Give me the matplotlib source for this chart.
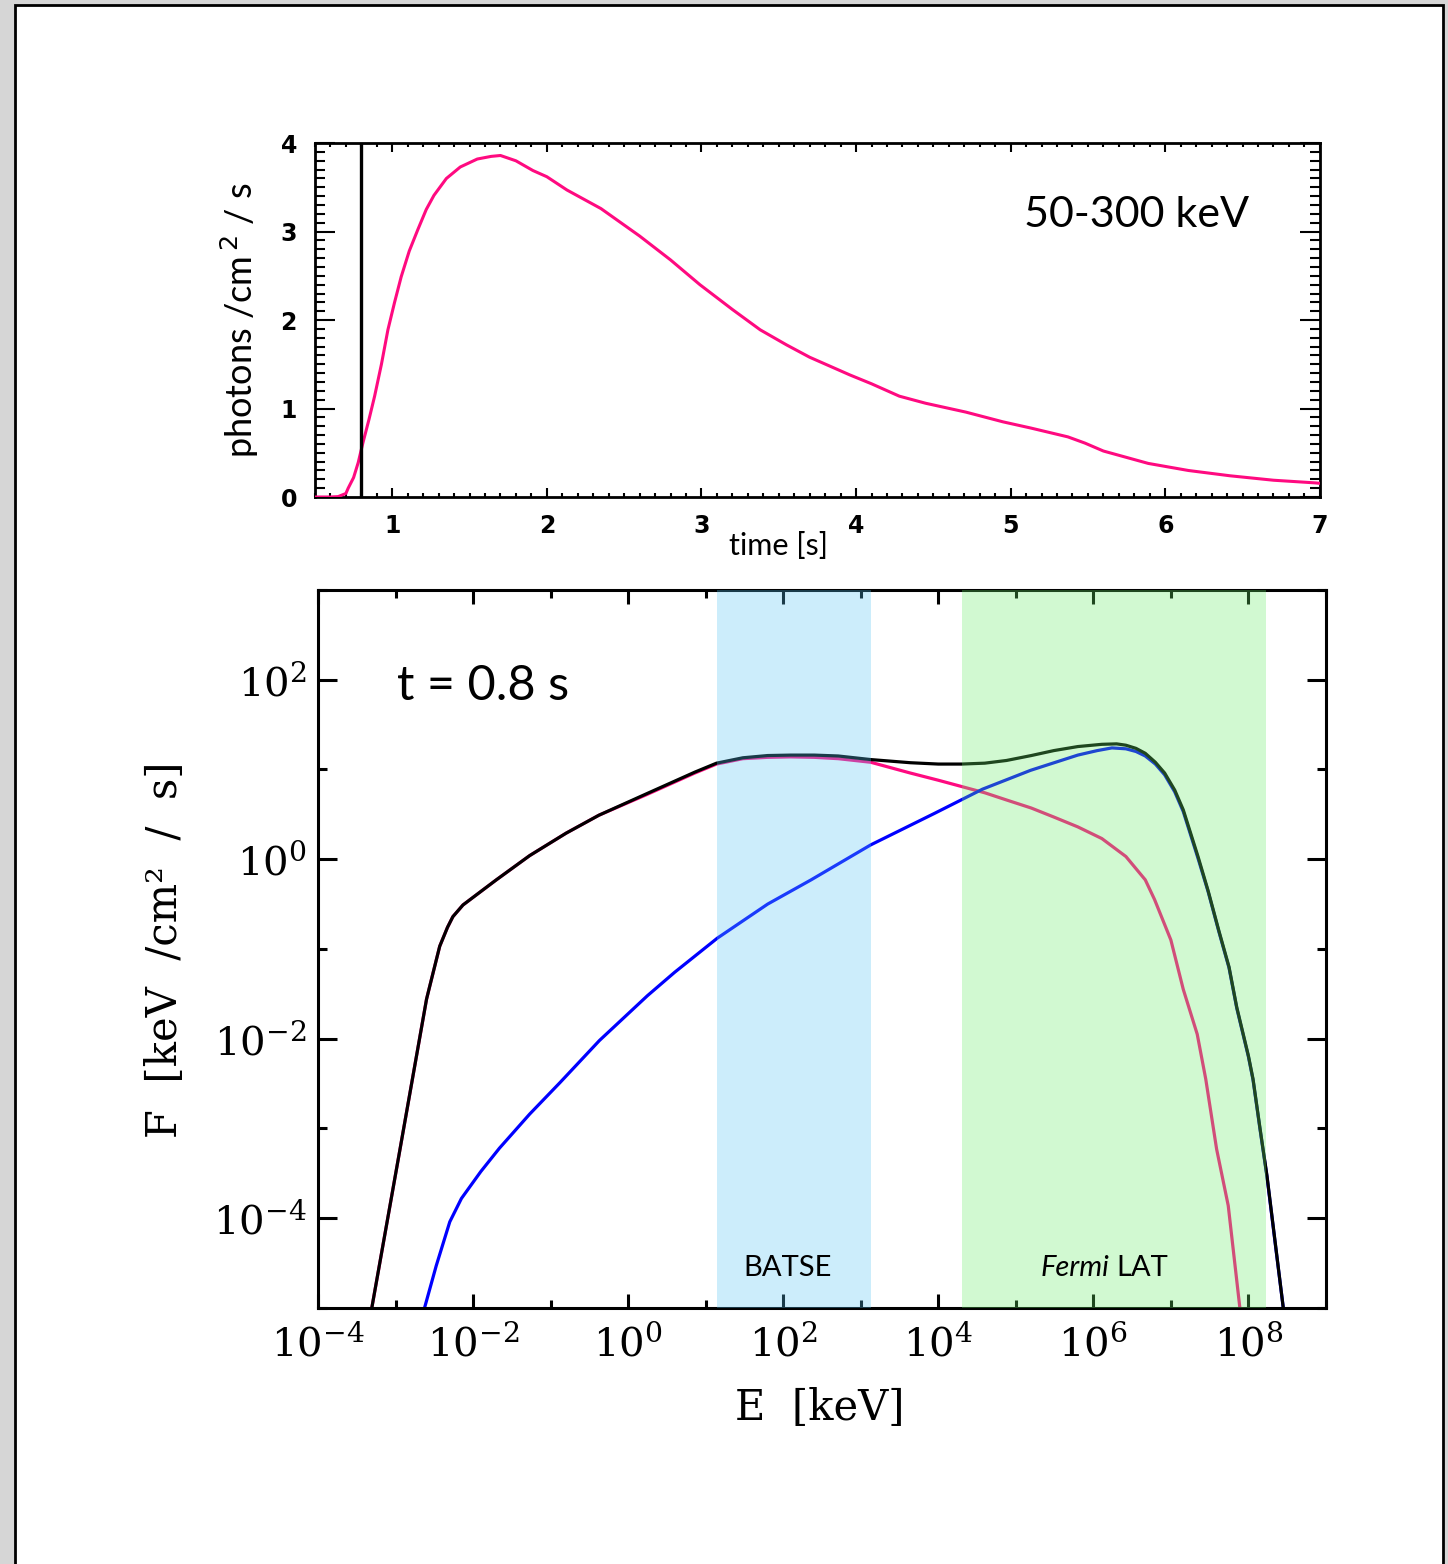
import numpy as np
import matplotlib
matplotlib.use('Agg')
import matplotlib.pyplot as plt
from matplotlib.patches import Rectangle
from matplotlib.ticker import MultipleLocator, LogLocator, FuncFormatter, NullFormatter

plt.rcParams['mathtext.fontset'] = 'dejavuserif'

# light curve, 50-300 keV
t_lc = [0.50, 0.60, 0.65, 0.70, 0.715, 0.75, 0.78, 0.81, 0.85, 0.886, 0.93, 0.972,
        1.015, 1.058, 1.11, 1.165, 1.22, 1.27, 1.35, 1.44, 1.55, 1.64, 1.70, 1.80,
        1.91, 2.00, 2.13, 2.35, 2.60, 2.80, 2.99, 3.20, 3.38, 3.55, 3.70, 3.96, 4.10,
        4.28, 4.45, 4.71, 4.95, 5.13, 5.25, 5.37, 5.48, 5.60, 5.89, 6.15, 6.42, 6.70,
        6.97, 7.00]
rate_lc = [0.0, 0.0, 0.005, 0.04, 0.10, 0.22, 0.39, 0.61, 0.88, 1.14, 1.50, 1.89,
           2.20, 2.49, 2.78, 3.02, 3.25, 3.41, 3.60, 3.73, 3.82, 3.85, 3.86, 3.80,
           3.69, 3.62, 3.47, 3.26, 2.95, 2.68, 2.40, 2.12, 1.89, 1.72, 1.58, 1.38, 1.28,
           1.14, 1.06, 0.96, 0.85, 0.78, 0.73, 0.68, 0.61, 0.52, 0.38, 0.30, 0.24, 0.19,
           0.16, 0.155]
t_mark = 0.8

# spectrum at t = 0.8 s  (log10 E [keV], log10 F)
logE_tot = [-3.306, -2.95, -2.60, -2.56, -2.43, -2.33, -2.26, -2.13, -1.90, -1.70, -1.27,
            -0.80, -0.377, 0.24, 0.86, 1.14, 1.48, 1.80, 2.10, 2.40, 2.71, 3.13, 3.64, 4.00,
            4.30, 4.60, 4.88, 5.20, 5.49, 5.80, 6.11, 6.30, 6.42, 6.55, 6.67, 6.80, 6.92,
            7.05, 7.16, 7.35, 7.48, 7.62, 7.75, 7.85, 8.00, 8.06, 8.15, 8.24, 8.35, 8.45]
logF_tot = [-5.0, -3.27, -1.56, -1.42, -0.97, -0.76, -0.64, -0.51, -0.36, -0.23, 0.04,
            0.29, 0.49, 0.73, 0.97, 1.07, 1.13, 1.155, 1.16, 1.16, 1.15, 1.11, 1.075, 1.06,
            1.06, 1.07, 1.10, 1.155, 1.21, 1.255, 1.28, 1.285, 1.27, 1.235, 1.18, 1.08, 0.96,
            0.77, 0.55, 0.03, -0.35, -0.80, -1.20, -1.65, -2.19, -2.45, -3.00, -3.53, -4.30, -5.0]

logE_pink = [-3.306, -2.95, -2.60, -2.56, -2.43, -2.33, -2.26, -2.13, -1.90, -1.70, -1.27,
             -0.80, -0.377, 0.24, 0.86, 1.14, 1.48, 1.80, 2.10, 2.40, 2.71, 3.13, 3.64, 4.00,
             4.30, 4.60, 4.88, 5.20, 5.49, 5.80, 6.11, 6.42, 6.67, 6.79, 7.00, 7.16, 7.34,
             7.45, 7.59, 7.74, 7.89]
logF_pink = [-5.0, -3.27, -1.56, -1.42, -0.97, -0.76, -0.64, -0.51, -0.36, -0.23, 0.04,
             0.29, 0.49, 0.72, 0.96, 1.06, 1.12, 1.135, 1.14, 1.135, 1.12, 1.08, 0.96, 0.88,
             0.81, 0.74, 0.66, 0.57, 0.47, 0.36, 0.23, 0.03, -0.23, -0.45, -0.90, -1.45, -1.95,
             -2.45, -3.23, -3.86, -5.0]

logE_blue = [-2.626, -2.475, -2.30, -2.15, -1.90, -1.66, -1.27, -0.88, -0.37, 0.25,
             0.60, 1.15, 1.80, 2.36, 3.13, 3.95, 4.57, 5.19, 5.80, 6.05, 6.24, 6.42, 6.55,
             6.67, 6.80, 6.92, 7.05, 7.16, 7.35, 7.48, 7.62, 7.75, 7.85, 8.00, 8.06, 8.15,
             8.24, 8.35, 8.45]
logF_blue = [-5.0, -4.53, -4.04, -3.78, -3.48, -3.22, -2.84, -2.49, -2.02, -1.52,
             -1.26, -0.88, -0.50, -0.23, 0.16, 0.51, 0.78, 0.99, 1.16, 1.21, 1.24, 1.23, 1.20,
             1.15, 1.06, 0.94, 0.75, 0.53, 0.01, -0.36, -0.81, -1.21, -1.66, -2.20, -2.46, -3.01,
             -3.54, -4.31, -5.0]

batse_band = (14.0, 1.36e3)
lat_band = (2.0e4, 1.7e8)

fig = plt.figure(figsize=(14.48, 15.64), dpi=100, facecolor='#d6d6d6')
fig.add_artist(Rectangle((15/1448, -0.01), 1428/1448, 1.0068, transform=fig.transFigure,
                         facecolor='white', edgecolor='black', lw=2, zorder=0))

# ---- light curve panel
ax1 = fig.add_axes([0.2175, 0.6822, 0.694, 0.2263])
ax1.plot(t_lc, rate_lc, color='#ff0a80', lw=2.2, zorder=3)
ax1.axvline(t_mark, color='black', lw=2.4, zorder=4)
ax1.set_xlim(0.5, 7)
ax1.set_ylim(0, 4)
ax1.xaxis.set_major_locator(MultipleLocator(1))
ax1.xaxis.set_minor_locator(MultipleLocator(0.1))
ax1.yaxis.set_major_locator(MultipleLocator(1))
ax1.yaxis.set_minor_locator(MultipleLocator(0.1))
ax1.tick_params(which='both', direction='in', top=True, right=True, width=1.5, labelsize=17)
ax1.tick_params(axis='x', which='major', length=6.5, pad=12)
ax1.tick_params(axis='x', which='minor', length=3.2)
ax1.tick_params(axis='y', which='major', length=14.4, pad=13)
ax1.tick_params(axis='y', which='minor', length=7.2)
plt.setp(ax1.get_xticklabels() + ax1.get_yticklabels(), fontweight='bold', family='DejaVu Sans')
for s in ax1.spines.values():
    s.set_linewidth(2)
ax1.set_ylabel('photons /cm$^{\\,2}$ / s', family='Lato', fontsize=26, math_fontfamily='dejavusans')
ax1.yaxis.set_label_coords(-0.0746, 0.5)
ax1.yaxis.label.set_va('center')
ax1.set_xlabel('time [s]', family='Lato', fontsize=22)
ax1.xaxis.set_label_coords(0.461, -0.138)
ax1.xaxis.label.set_va('center')
ax1.text(0.93, 0.797, '50-300 keV', transform=ax1.transAxes, ha='right', va='center',
         family='Lato', fontsize=31)

# ---- spectrum panel
ax2 = fig.add_axes([0.2196, 0.1637, 0.6961, 0.4591])
ax2.plot(10**np.array(logE_pink), 10**np.array(logF_pink), color='#ff0a80', lw=2.3, zorder=2)
ax2.plot(10**np.array(logE_blue), 10**np.array(logF_blue), color='#0000ff', lw=2.3, zorder=2)
ax2.plot(10**np.array(logE_tot), 10**np.array(logF_tot), color='black', lw=2.3, zorder=2)
ax2.axvspan(*batse_band, color=(88/255, 198/255, 245/255), alpha=0.3, lw=0, zorder=3)
ax2.axvspan(*lat_band, color=(105/255, 238/255, 105/255), alpha=0.3, lw=0, zorder=3)
ax2.set_xscale('log')
ax2.set_yscale('log')
ax2.set_xlim(1e-4, 1e9)
ax2.set_ylim(1e-5, 1e3)
pow_fmt = FuncFormatter(lambda v, p: r'$10^{%d}$' % int(round(np.log10(v))))
for axis in (ax2.xaxis, ax2.yaxis):
    axis.set_major_locator(LogLocator(base=100, numticks=20))
    axis.set_minor_locator(LogLocator(base=10, subs=(1.0,), numticks=30))
    axis.set_major_formatter(pow_fmt)
    axis.set_minor_formatter(NullFormatter())
ax2.tick_params(which='both', direction='in', top=True, right=True, width=2.2, labelsize=29)
ax2.tick_params(axis='x', which='major', length=10, pad=12)
ax2.tick_params(axis='x', which='minor', length=5.8)
ax2.tick_params(axis='y', which='major', length=13.7, pad=8)
ax2.tick_params(axis='y', which='minor', length=6.8)
for s in ax2.spines.values():
    s.set_linewidth(2.2)
ax2.set_ylabel('F  [keV  /cm²  /  s]', family='DejaVu Serif', fontsize=30)
ax2.yaxis.set_label_coords(-0.152, 0.4986)
ax2.yaxis.label.set_va('center')
ax2.set_xlabel('E  [keV]', family='DejaVu Serif', fontsize=30)
ax2.xaxis.set_label_coords(0.498, -0.139)
ax2.xaxis.label.set_va('center')

ax2.text(0.078, 0.866, 't = 0.8 s', transform=ax2.transAxes, ha='left', va='center',
         family='Lato', fontsize=35, zorder=5)
ax2.text(0.466, 0.056, 'BATSE', transform=ax2.transAxes, ha='center', va='center',
         family='Lato', fontsize=21, zorder=5)
ax2.text(0.7857, 0.056, 'Fermi', transform=ax2.transAxes, ha='right', va='center',
         family='Lato', style='italic', fontsize=21, zorder=5)
ax2.text(0.7917, 0.056, 'LAT', transform=ax2.transAxes, ha='left', va='center',
         family='Lato', fontsize=21, zorder=5)

fig.savefig('out.png', dpi=100, facecolor=fig.get_facecolor())
